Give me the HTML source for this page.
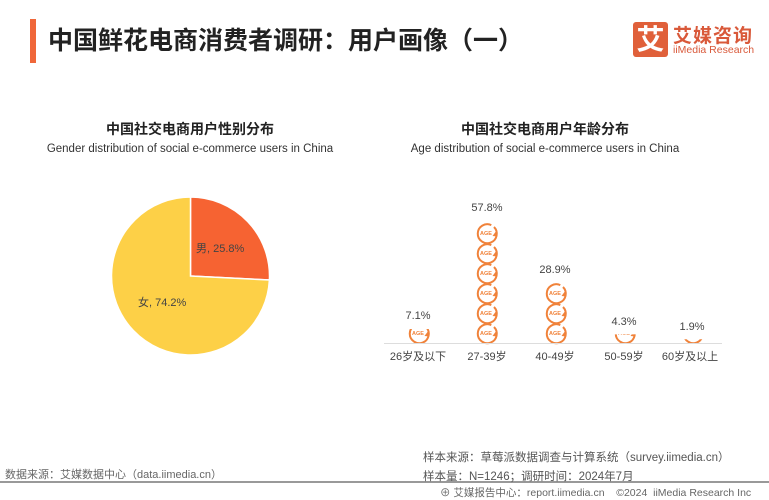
<!DOCTYPE html>
<html><head><meta charset="utf-8"><style>
body{margin:0;background:#fff;}
#c{position:relative;width:769px;height:500px;overflow:hidden;font-family:"Liberation Sans","Noto Sans CJK SC",sans-serif;color:#333;}
.t{position:absolute;white-space:nowrap;}
</style></head><body><div id="c">
<div style="position:absolute;left:30px;top:19px;width:6px;height:44px;background:#f0673a"></div>
<div class="t" style="left:48px;top:21px;font-size:25px;font-weight:bold;color:#222;">中国鲜花电商消费者调研：用户画像（一）</div>
<div style="position:absolute;left:633px;top:22px;width:35px;height:35px;background:#e0603a;border-radius:3px;color:#fff;font-size:28px;font-weight:bold;line-height:35px;text-align:center;">艾</div>
<div class="t" style="left:673px;top:21px;font-size:19px;font-weight:bold;color:#d9593a;letter-spacing:1px;">艾媒咨询</div>
<div class="t" style="left:673px;top:44px;font-size:10.5px;color:#d9593a;">iiMedia Research</div>

<div class="t" style="left:0;width:380px;text-align:center;top:119px;font-size:14px;font-weight:bold;color:#222;">中国社交电商用户性别分布</div>
<div class="t" style="left:0;width:380px;text-align:center;top:143px;font-size:11.5px;">Gender distribution of social e-commerce users in China</div>
<div class="t" style="left:385px;width:320px;text-align:center;top:119px;font-size:14px;font-weight:bold;color:#222;">中国社交电商用户年龄分布</div>
<div class="t" style="left:385px;width:320px;text-align:center;top:143px;font-size:11.5px;">Age distribution of social e-commerce users in China</div>

<svg width="769" height="500" style="position:absolute;left:0;top:0" font-family="Liberation Sans,Noto Sans CJK SC,sans-serif">
<path d="M190.5,276 L190.5,197 A79,79 0 0,1 269.4,280 Z" fill="#f66332" stroke="#fff" stroke-width="1.5"/>
<path d="M190.5,276 L269.4,280 A79,79 0 1,1 190.5,197 Z" fill="#fdd047" stroke="#fff" stroke-width="1.5"/>
<text x="196" y="252" font-size="11" fill="#444">男, 25.8%</text>
<text x="138" y="306" font-size="11" fill="#444">女, 74.2%</text>
<defs>
<g id="ic">
<path d="M8,-6 A9.5,9.5 0 1,1 5.3,-7.9" fill="none" stroke="#f0823a" stroke-width="2"/>
<path d="M6.5,3 L10,-1.8 L11.5,3.5 Z" fill="#f0823a"/>
<text x="0" y="2" font-size="5.5" font-weight="bold" fill="#f0823a" text-anchor="middle">AGE</text>
</g>
<clipPath id="c1"><rect x="400" y="329" width="40" height="14"/></clipPath>
<clipPath id="c4"><rect x="604" y="334.4" width="40" height="8.6"/></clipPath>
<clipPath id="c5"><rect x="672" y="339.2" width="40" height="3.8"/></clipPath>
</defs>
<g clip-path="url(#c1)"><use href="#ic" x="418" y="333"/></g>
<use href="#ic" x="486" y="233"/><use href="#ic" x="486" y="253"/><use href="#ic" x="486" y="273"/>
<use href="#ic" x="486" y="293"/><use href="#ic" x="486" y="313"/><use href="#ic" x="486" y="333"/>
<use href="#ic" x="555" y="293"/><use href="#ic" x="555" y="313"/><use href="#ic" x="555" y="333"/>
<g clip-path="url(#c4)"><use href="#ic" x="624" y="333"/></g>
<g clip-path="url(#c5)"><use href="#ic" x="692" y="333"/></g>
<line x1="384" y1="343.5" x2="722" y2="343.5" stroke="#ddd" stroke-width="1"/>
<g font-size="11" fill="#444" text-anchor="middle">
<text x="418" y="319">7.1%</text><text x="487" y="211">57.8%</text><text x="555" y="273">28.9%</text>
<text x="624" y="325">4.3%</text><text x="692" y="330">1.9%</text>
<text x="418" y="360">26岁及以下</text><text x="487" y="360">27-39岁</text><text x="555" y="360">40-49岁</text>
<text x="624" y="360">50-59岁</text><text x="690" y="360">60岁及以上</text>
</g>
<line x1="0" y1="482" x2="769" y2="482" stroke="#999" stroke-width="2"/>
</svg>
<div class="t" style="left:423px;top:449px;font-size:11.5px;color:#555;">样本来源：草莓派数据调查与计算系统（survey.iimedia.cn）</div>
<div class="t" style="left:423px;top:468px;font-size:11.5px;color:#555;">样本量：N=1246；调研时间：2024年7月</div>
<div class="t" style="left:5px;top:466px;font-size:11px;color:#666;">数据来源：艾媒数据中心（data.iimedia.cn）</div>
<div class="t" style="left:440px;top:485px;font-size:10.5px;color:#666;">⊕ 艾媒报告中心：report.iimedia.cn &nbsp;&nbsp;&nbsp;©2024 &nbsp;iiMedia Research Inc</div>
</div></body></html>
